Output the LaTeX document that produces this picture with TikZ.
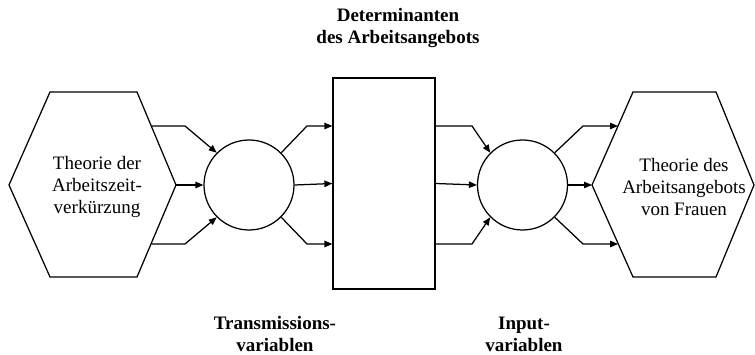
\documentclass[tikz,border=0pt]{standalone}
\usepackage{fontspec}
\setmainfont{Liberation Serif}
\usetikzlibrary{arrows.meta}
\begin{document}
\begin{tikzpicture}[x=1pt,y=-1pt, line width=1.25pt, line join=miter,
  arr/.style={-{Triangle[length=8pt,width=6.5pt]}},
  circ/.style={circle,draw,minimum size=90pt,inner sep=0pt},
  lbl/.style={font=\fontsize{19}{22}\selectfont, align=center, inner sep=0pt},
  blbl/.style={font=\fontsize{19}{22}\selectfont\bfseries, align=center, inner sep=0pt}]
\useasboundingbox (0,0) rectangle (755,355);
% hexagons
\draw (50,92) -- (137,92) -- (176,185) -- (137,277) -- (50,277) -- (9,185) -- cycle;
\draw (633,92) -- (716,92) -- (754,185) -- (716,277) -- (633,277) -- (592,185) -- cycle;
\coordinate (h1t) at (151.3,126);
\coordinate (h1r) at (176,185);
\coordinate (h1b) at (151.3,244);
\coordinate (h2t) at (618,126);
\coordinate (h2l) at (592,185);
\coordinate (h2b) at (618,244);
% nodes
\node[circ] (c1) at (249,185) {};
\node[draw, minimum width=102pt, minimum height=211pt, inner sep=0pt] (box) at (384,183.5) {};
\node[circ] (c2) at (522.5,185) {};
\node[lbl] (t1) at (97,187) {Theorie der\\Arbeitszeit-\\verkürzung};
\node[lbl] (t2) at (684,187) {Theorie des\\Arbeitsangebots\\von Frauen};
\node[blbl] (d) at (398,28) {Determinanten\\des Arbeitsangebots};
\node[blbl] (tr) at (275,334) {Transmissions-\\variablen};
\node[blbl] (in) at (524,334) {Input-\\variablen};
% connectors hexagon -> circle
\draw[arr] (h1t) -- (185,126) -- (c1.135);
\draw[arr] (h1r) -- (c1.west);
\draw[arr] (h1b) -- (185,244) -- (c1.225);
% circle -> box
\draw[arr] (c1.45) -- (307,126) -- (box.west |- 307,126);
\draw[arr] (c1.east) -- (box.west);
\draw[arr] (c1.-45) -- (307,244) -- (box.west |- 307,244);
% box -> circle
\draw[arr] (box.east |- 472,126) -- (472,126) -- (c2.135);
\draw[arr] (box.east) -- (c2.west);
\draw[arr] (box.east |- 472,244) -- (472,244) -- (c2.225);
% circle -> hexagon
\draw[arr] (c2.45) -- (583,126) -- (h2t);
\draw[arr] (c2.east) -- (h2l);
\draw[arr] (c2.-45) -- (583,244) -- (h2b);
\end{tikzpicture}
\end{document}
